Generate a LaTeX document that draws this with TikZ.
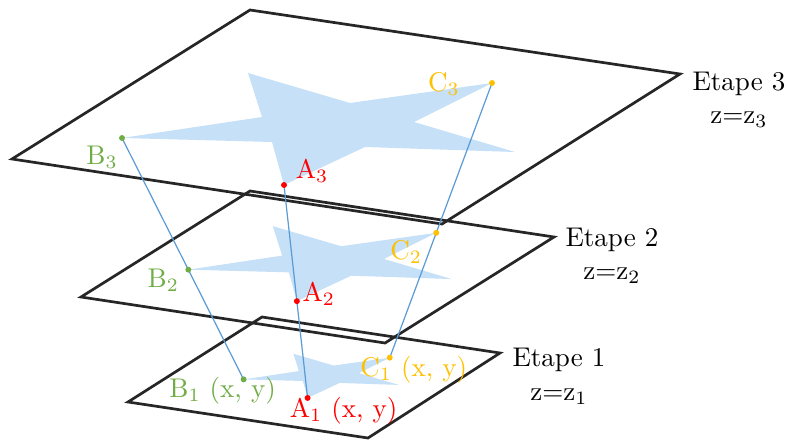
\documentclass[tikz,border=0pt]{standalone}
\usepackage{tikz}
\usetikzlibrary{
  calc,        % homothetie et decalages
  positioning  % placement relatif des etiquettes
}

\definecolor{bleuEtoile}{RGB}{197,224,247}
\definecolor{bleuRayon}{RGB}{91,155,213}
\definecolor{vertB}{RGB}{112,173,71}
\definecolor{orangeC}{RGB}{255,192,0}

\begin{document}
\begin{tikzpicture}[x=1.3cm, y=-1.3cm,
    plan/.style={black!85, line width=1pt, line join=miter},
    rayon/.style={bleuRayon, line width=0.45pt},
    etoile/.style={fill=bleuEtoile},
    etape/.style={anchor=west, inner sep=0pt}]
  \useasboundingbox (0,0) rectangle (7.88,4.41);

  % point de fuite des trois etapes
  \coordinate (V) at (3.23,5.37);

  % --- les trois plans ---
  \draw[plan] (2.50,0.10) -- (6.80,0.74) coordinate (P3) -- (4.42,2.24) -- (0.12,1.59) -- cycle;
  \draw[plan] (2.50,1.91) -- (5.54,2.37) coordinate (P2) -- (3.85,3.43) -- (0.81,2.97) -- cycle;
  \draw[plan] (2.62,3.17) -- (5.00,3.53) coordinate (P1) -- (3.68,4.38) -- (1.28,4.02) -- cycle;

  % --- l'etoile, reduite vers le point de fuite ---
  \foreach \n/\k in {3/1, 2/0.67, 1/0.395}{
    \begin{scope}[shift={($(V)!\k!(0,0)$)}, scale=\k]
      \fill[etoile] (2.48,0.73) -- (3.50,1.03) -- (4.92,0.83) coordinate (C\n)
        -- (4.14,1.22) -- (5.15,1.52) -- (3.65,1.47) -- (2.84,1.85) coordinate (A\n)
        -- (2.72,1.42) -- (1.22,1.38) coordinate (B\n) -- (2.62,1.17) -- cycle;
    \end{scope}
  }

  % --- rayons et points ---
  \foreach \p/\c in {A/red, B/vertB, C/orangeC}{
    \draw[rayon] (\p3) -- (\p1);
    \foreach \n in {1,2,3}{
      \fill[\c] (\p\n) circle (1.1pt);
    }
  }

  % --- noms des points ---
  \node[red] (LA3) at ($(A3)+(0.28,-0.14)$) {A$_3$};
  \node[red] (LA2) at ($(A2)+(0.22,-0.07)$) {A$_2$};
  \node[red] (LA1) at ($(A1)+(0.36,0.13)$) {A$_1$ (x, y)};
  \node[vertB] (LB3) at ($(B3)+(-0.20,0.19)$) {B$_3$};
  \node[vertB] (LB2) at ($(B2)+(-0.25,0.11)$) {B$_2$};
  \node[vertB] (LB1) at ($(B1)+(-0.21,0.11)$) {B$_1$ (x, y)};
  \node[orangeC] (LC3) at ($(C3)+(-0.48,0.01)$) {C$_3$};
  \node[orangeC] (LC2) at ($(C2)+(-0.30,0.19)$) {C$_2$};
  \node[orangeC] (LC1) at ($(C1)+(0.24,0.12)$) {C$_1$ (x, y)};

  % --- etapes ---
  \node[etape] (E3) at ($(P3)+(0.12,0.10)$) {Etape 3};
  \node[etape] (E2) at ($(P2)+(0.11,0.03)$) {Etape 2};
  \node[etape] (E1) at ($(P1)+(0.12,0.07)$) {Etape 1};
  \node (Z3) at ($(E3)+(0,0.36)$) {z=z$_3$};
  \node (Z2) at ($(E2)+(0,0.36)$) {z=z$_2$};
  \node (Z1) at ($(E1)+(0,0.37)$) {z=z$_1$};

\end{tikzpicture}
\end{document}
